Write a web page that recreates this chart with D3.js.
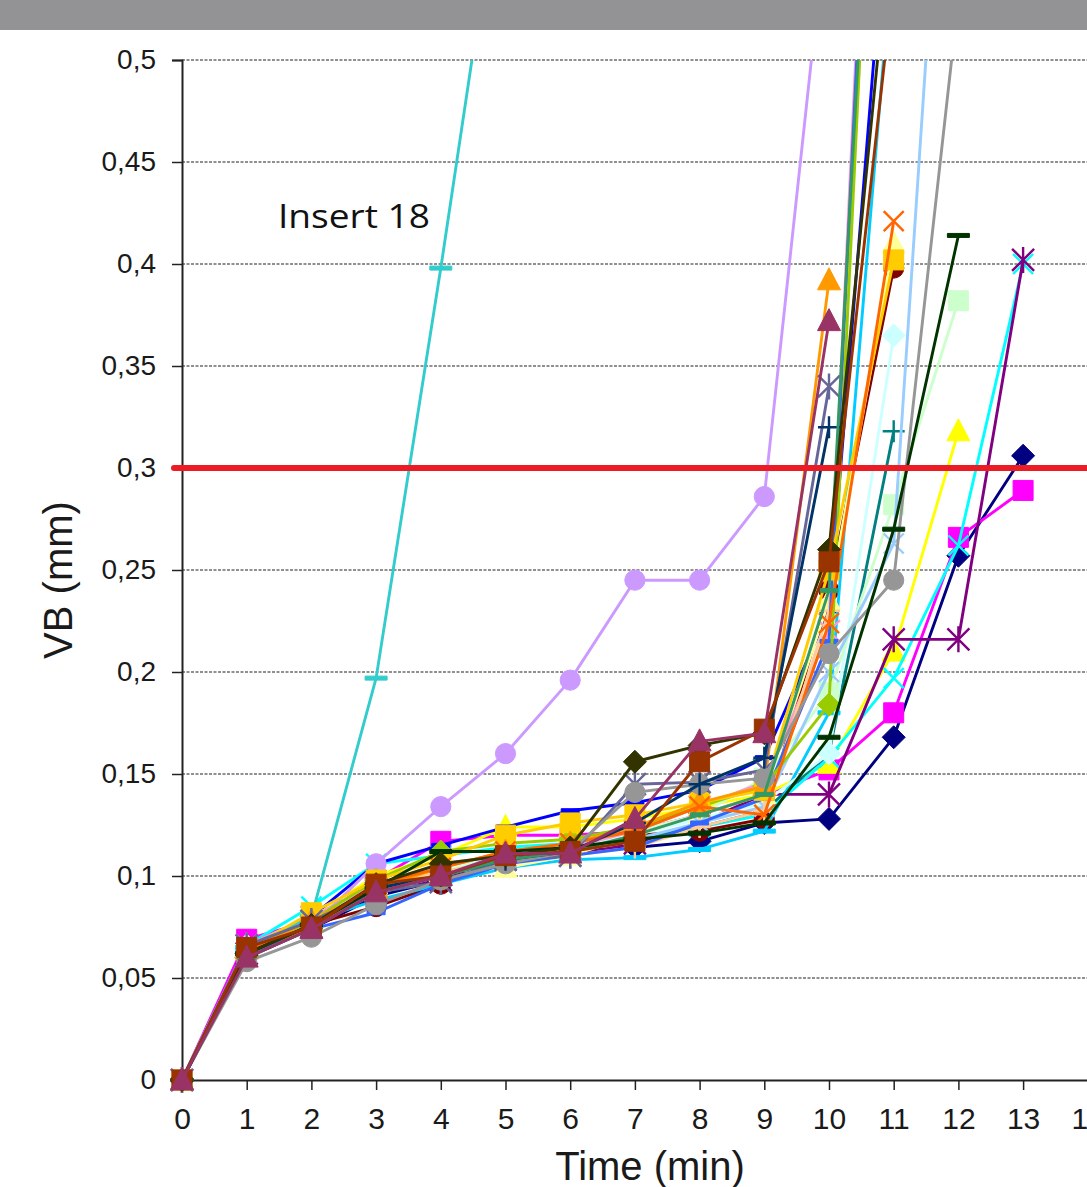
<!DOCTYPE html>
<html>
<head>
<meta charset="utf-8">
<script src="https://cdn.jsdelivr.net/npm/d3@7/dist/d3.min.js"></script>
<style>
body { margin: 0; background: #fff; }
</style>
</head>
<body>
<script>
// time axis (min)
var times = [0, 1, 2, 3, 4, 5, 6, 7, 8, 9, 10, 11, 12, 13];
var xTicks = [0, 1, 2, 3, 4, 5, 6, 7, 8, 9, 10, 11, 12, 13, 14];
var yTicks = [0, 0.05, 0.1, 0.15, 0.2, 0.25, 0.3, 0.35, 0.4, 0.45, 0.5];
var vbLimit = 0.3;

// flank wear VB (mm) per insert
var vb01 = [0, 0.060, 0.074, 0.090, 0.098, 0.108, 0.112, 0.114, 0.117, 0.126, 0.128, 0.168, 0.257, 0.306];
var vb02 = [0, 0.069, 0.078, 0.098, 0.117, 0.120, 0.120, 0.122, 0.130, 0.140, 0.152, 0.180, 0.266, 0.289];
var vb03 = [0, 0.064, 0.080, 0.100, 0.110, 0.124, 0.124, 0.128, 0.134, 0.140, 0.155, 0.210, 0.318];
var vb04 = [0, 0.066, 0.085, 0.106, 0.110, 0.114, 0.116, 0.118, 0.124, 0.130, 0.158, 0.197, 0.262, 0.400];
var vb05 = [0, 0.062, 0.075, 0.094, 0.098, 0.108, 0.110, 0.116, 0.126, 0.140, 0.140, 0.216, 0.216, 0.402];
var vb06 = [0, 0.062, 0.076, 0.085, 0.096, 0.106, 0.112, 0.120, 0.122, 0.128, 0.240, 0.398];
var vb07 = [0, 0.062, 0.076, 0.092, 0.100, 0.108, 0.112, 0.118, 0.124, 0.132, 0.160, 0.318];
var vb08 = [0, 0.066, 0.080, 0.106, 0.115, 0.124, 0.132, 0.136, 0.142, 0.158, 0.230, 0.620];
var vb09 = [0, 0.064, 0.078, 0.088, 0.096, 0.104, 0.108, 0.109, 0.113, 0.122, 0.180, 0.560];
var vb10 = [0, 0.066, 0.080, 0.096, 0.104, 0.110, 0.114, 0.120, 0.128, 0.136, 0.160, 0.365];
var vb11 = [0, 0.064, 0.078, 0.094, 0.102, 0.110, 0.114, 0.122, 0.130, 0.148, 0.190, 0.282, 0.382];
var vb12 = [0, 0.064, 0.080, 0.096, 0.102, 0.104, 0.110, 0.120, 0.130, 0.140, 0.235, 0.410];
var vb13 = [0, 0.064, 0.078, 0.092, 0.100, 0.108, 0.112, 0.118, 0.126, 0.134, 0.200, 0.263, 0.740];
var vb14 = [0, 0.066, 0.080, 0.096, 0.106, 0.110, 0.114, 0.122, 0.134, 0.146, 0.220, 0.900];
var vb15 = [0, 0.065, 0.075, 0.106, 0.134, 0.160, 0.196, 0.245, 0.245, 0.286, 0.580];
var vb16 = [0, 0.064, 0.078, 0.094, 0.102, 0.108, 0.110, 0.114, 0.124, 0.132, 0.230, 0.800];
var vb17 = [0, 0.062, 0.074, 0.082, 0.096, 0.106, 0.110, 0.114, 0.126, 0.138, 0.215, 0.880];
var vb18 = [0, 0.065, 0.080, 0.197, 0.398, 0.610];
var vb19 = [0, 0.062, 0.078, 0.098, 0.112, 0.116, 0.118, 0.124, 0.134, 0.144, 0.184, 0.850];
var vb20 = [0, 0.064, 0.082, 0.098, 0.108, 0.120, 0.126, 0.130, 0.136, 0.142, 0.250, 0.402];
var vb21 = [0, 0.064, 0.078, 0.094, 0.104, 0.112, 0.116, 0.124, 0.136, 0.144, 0.392];
var vb22 = [0, 0.064, 0.074, 0.096, 0.104, 0.112, 0.116, 0.122, 0.134, 0.130, 0.224, 0.421];
var vb23 = [0, 0.066, 0.078, 0.092, 0.097, 0.108, 0.110, 0.145, 0.146, 0.152, 0.340];
var vb24 = [0, 0.058, 0.070, 0.086, 0.098, 0.106, 0.112, 0.141, 0.145, 0.148, 0.209, 0.245, 0.530];
var vb25 = [0, 0.062, 0.076, 0.094, 0.100, 0.108, 0.112, 0.126, 0.145, 0.158, 0.320];
var vb26 = [0, 0.060, 0.074, 0.092, 0.100, 0.108, 0.112, 0.120, 0.130, 0.140, 0.240, 0.820];
var vb27 = [0, 0.062, 0.076, 0.094, 0.112, 0.112, 0.114, 0.118, 0.121, 0.126, 0.168, 0.270, 0.414];
var vb28 = [0, 0.062, 0.076, 0.096, 0.106, 0.110, 0.114, 0.156, 0.164, 0.170, 0.260, 0.580];
var vb29 = [0, 0.065, 0.075, 0.096, 0.100, 0.110, 0.112, 0.117, 0.156, 0.172, 0.254, 0.540];
var vb30 = [0, 0.060, 0.074, 0.092, 0.100, 0.111, 0.111, 0.128, 0.166, 0.170, 0.372];

var allVb = [vb01, vb02, vb03, vb04, vb05, vb06, vb07, vb08, vb09, vb10,
             vb11, vb12, vb13, vb14, vb15, vb16, vb17, vb18, vb19, vb20,
             vb21, vb22, vb23, vb24, vb25, vb26, vb27, vb28, vb29, vb30];

// excel 2003 default series colours
var colors = ["#000080", "#ff00ff", "#ffff00", "#00ffff", "#800080", "#800000", "#008080", "#0000ff",
              "#00ccff", "#ccffff", "#ccffcc", "#ffff99", "#99ccff", "#ff99cc", "#cc99ff", "#ffcc99",
              "#3366ff", "#33cccc", "#99cc00", "#ffcc00", "#ff9900", "#ff6600", "#666699", "#969696",
              "#003366", "#339966", "#003300", "#333300", "#993300", "#993366"];
var markerCycle = ["diamond", "square", "triangle", "x", "star", "circle", "plus", "dash", "longdash"];

var W = 1087, H = 1187;

var svg = d3.select("body").append("svg")
    .attr("width", W)
    .attr("height", H);

// grey band at the top
svg.append("rect")
    .attr("x", 0).attr("y", 0)
    .attr("width", W).attr("height", 30)
    .attr("fill", "#939396");

var x = d3.scaleLinear().domain([0, 14]).range([182, 182 + 14 * 64.7]);
var y = d3.scaleLinear().domain([0, 0.5]).range([1080, 60]);

// dashed grid lines
svg.selectAll(".grid")
    .data(yTicks.filter(function (d) { return d > 0; }))
    .enter().append("line")
    .attr("class", "grid")
    .attr("x1", 182).attr("x2", W)
    .attr("y1", function (d) { return y(d); })
    .attr("y2", function (d) { return y(d); })
    .attr("stroke", "#222")
    .attr("stroke-width", 1.2)
    .attr("stroke-dasharray", "3,1.5");

// y axis
var yAxis = d3.axisLeft(y)
    .tickValues(yTicks)
    .tickSize(10)
    .tickPadding(16)
    .tickFormat(function (d) { return d === 0 ? "0" : String(d).replace(".", ","); });
var gy = svg.append("g").attr("transform", "translate(182,0)").call(yAxis);
gy.select(".domain").attr("stroke", "#222").attr("stroke-width", 2);
gy.selectAll(".tick line").attr("stroke", "#222").attr("stroke-width", 1.5);
gy.selectAll(".tick text")
    .attr("font-family", "Liberation Sans, Arial, sans-serif")
    .attr("font-size", 28)
    .attr("fill", "#1a1a1a");

// x axis
var xAxis = d3.axisBottom(x)
    .tickValues(xTicks)
    .tickSize(10)
    .tickPadding(18)
    .tickFormat(d3.format("d"));
var gx = svg.append("g").attr("transform", "translate(0,1080)").call(xAxis);
gx.select(".domain").attr("stroke", "#222").attr("stroke-width", 2);
gx.selectAll(".tick line").attr("stroke", "#222").attr("stroke-width", 1.5);
gx.selectAll(".tick text")
    .attr("font-family", "Liberation Sans, Arial, sans-serif")
    .attr("font-size", 30)
    .attr("fill", "#1a1a1a");

// axis titles
svg.append("text")
    .attr("x", 650).attr("y", 1180)
    .attr("text-anchor", "middle")
    .attr("font-family", "Liberation Sans, Arial, sans-serif")
    .attr("font-size", 40)
    .attr("fill", "#1a1a1a")
    .text("Time (min)");

svg.append("text")
    .attr("transform", "translate(72,580) rotate(-90)")
    .attr("text-anchor", "middle")
    .attr("font-family", "Liberation Sans, Arial, sans-serif")
    .attr("font-size", 40)
    .attr("fill", "#1a1a1a")
    .text("VB (mm)");

// clip everything above 0.5
svg.append("clipPath").attr("id", "plotclip")
    .append("rect")
    .attr("x", 0).attr("y", y(0.5))
    .attr("width", W).attr("height", H - y(0.5));

var plot = svg.append("g").attr("clip-path", "url(#plotclip)");

var line = d3.line()
    .x(function (d) { return x(d.t); })
    .y(function (d) { return y(d.v); });

function markerPath(type) {
    switch (type) {
        case "diamond": return "M0,-11.5L11.5,0L0,11.5L-11.5,0Z";
        case "square": return "M-10,-10H10V10H-10Z";
        case "triangle": return "M0,-12.5L11.5,9.5L-11.5,9.5Z";
        case "x": return "M-10,-10L10,10M10,-10L-10,10";
        case "star": return "M-11,-11L11,11M11,-11L-11,11M0,-13V13";
        case "circle": return d3.symbol().type(d3.symbolCircle).size(320)();
        case "plus": return "M-11,0H11M0,-11V11";
        case "dash": return "M-9,-2H9V2H-9Z";
        case "longdash": return "M-11,-2H11V2H-11Z";
    }
}

allVb.forEach(function (vals, i) {
    var pts = vals.map(function (v, j) { return { t: times[j], v: v }; });
    var col = colors[i];
    var mk = markerCycle[i % markerCycle.length];
    var g = plot.append("g").attr("class", "series s" + (i + 1));

    g.append("path")
        .datum(pts)
        .attr("d", line)
        .attr("fill", "none")
        .attr("stroke", col)
        .attr("stroke-width", 2.9)
        .attr("stroke-linejoin", "round");

    var open = (mk === "x" || mk === "star" || mk === "plus");
    g.selectAll(".mk")
        .data(pts.filter(function (d) { return d.v <= 0.5; }))
        .enter().append("path")
        .attr("class", "mk")
        .attr("transform", function (d) { return "translate(" + x(d.t) + "," + y(d.v) + ")"; })
        .attr("d", markerPath(mk))
        .attr("fill", open ? "none" : col)
        .attr("stroke", col)
        .attr("stroke-width", open ? 2.4 : 1);
});

// VB = 0.3 mm limit
svg.append("line")
    .attr("x1", 174).attr("x2", W)
    .attr("y1", y(vbLimit)).attr("y2", y(vbLimit))
    .attr("stroke", "#ec1c24")
    .attr("stroke-width", 6)
    .attr("stroke-linecap", "round");

// label for the fast-wearing insert
svg.append("text")
    .attr("x", 278).attr("y", 228)
    .attr("font-family", "Open Sans, sans-serif")
    .attr("font-size", 33)
    .attr("fill", "#111")
    .attr("textLength", 152)
    .attr("lengthAdjust", "spacingAndGlyphs")
    .text("Insert 18");
</script>
</body>
</html>
